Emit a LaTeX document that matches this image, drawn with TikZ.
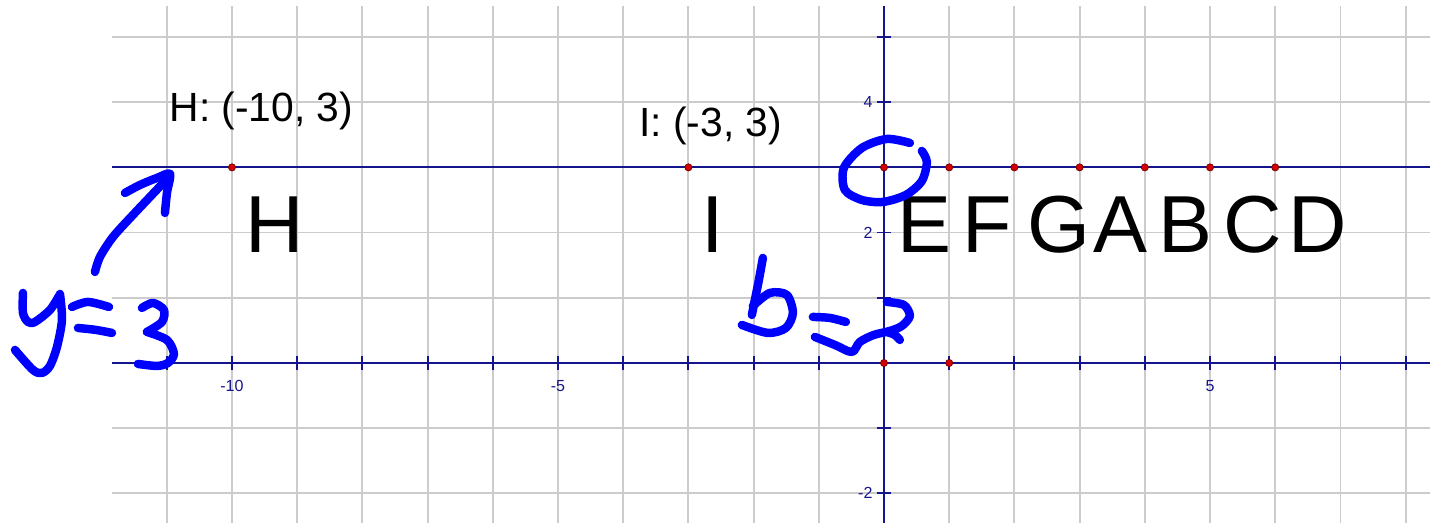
\documentclass[tikz,border=0pt]{standalone}
\usepackage{fontspec}
\setmainfont{Liberation Sans}
\usetikzlibrary{positioning}
\definecolor{axisnavy}{RGB}{20,20,140}
\definecolor{gridgray}{RGB}{204,204,204}
\definecolor{ptred}{RGB}{210,0,0}
\definecolor{penblue}{RGB}{0,0,255}

\begin{document}
\begin{tikzpicture}[
    gridln/.style={draw=gridgray, line width=0.8pt},
    axisln/.style={draw=axisnavy, line width=0.8pt},
    redpt/.style={circle, fill=ptred, draw=ptred!55!black, line width=0.3pt,
                  inner sep=0pt, minimum size=0.11cm},
    ptlbl/.style={font=\fontsize{35.3}{40}\selectfont, anchor=base west, inner sep=0pt},
    coordlbl/.style={font=\fontsize{17.8}{20}\selectfont, anchor=base west, inner sep=0pt},
    numlbl/.style={font=\fontsize{7}{8}\selectfont, text=axisnavy, inner sep=0pt},
    pen/.style={draw=penblue, line width=3.7pt, line cap=round, line join=round}
]
\useasboundingbox (-13.558,-2.454) rectangle (8.374,5.567);

% grid and axes
\draw[gridln] (-11.84,-2.454) grid (8.374,5.475);
\draw[axisln] (-11.84,0) -- (8.374,0);
\draw[axisln] (0,-2.454) -- (0,5.475);
\foreach \x in {-11,...,-1,1,2,...,8}
    \draw[axisln] (\x,-0.1) -- (\x,0.1);
\foreach \y in {-2,-1,1,2,4,5}
    \draw[axisln] (-0.1,\y) -- (0.1,\y);
\node[numlbl] (xm10) at (-10,-0.35) {-10};
\node[numlbl] (xm5)  at (-5,-0.35)  {-5};
\node[numlbl] (xp5)  at (5,-0.35)   {5};
\node[numlbl, anchor=east] (yp4) at (-0.17,4)  {4};
\node[numlbl, anchor=east] (yp2) at (-0.17,2)  {2};
\node[numlbl, anchor=east] (ym2) at (-0.17,-2) {-2};

% the line y = 3 and its points
\draw[axisln] (-11.84,3) -- (8.374,3);
\foreach \x/\n in {-10/H, -3/I, 0/E, 1/F, 2/G, 3/A, 4/B, 5/C, 6/D} {
    \node[redpt] (p\n) at (\x,3) {};
    \node[ptlbl] (lbl\n) at ({\x+0.2},1.687) {\n};
}
\node[redpt] (o0) at (0,0) {};
\node[redpt] (o1) at (1,0) {};

\node[coordlbl] (coordH) at (-10.963,3.696) {H: (-10, 3)};
\node[coordlbl] (coordI) at (-3.760,3.471)  {I: (-3, 3)};

% handwriting, in screen pixels
\begin{scope}[shift={(-13.5583cm,5.5675cm)}, x=0.015337cm, y=-0.015337cm]
    % arrow to the line
    \draw[pen] plot[smooth] coordinates {(95,272) (100,257) (113,237) (133,215) (150,197) (165,181) (170,174)};
    \draw[pen] plot[smooth] coordinates {(125,193) (140,185) (157,178) (170,174) (167,193) (165,213)};
    % y = 3
    \draw[pen] plot[smooth] coordinates {(23,293) (23,313) (28,322) (35,322) (50,310) (59,296)};
    \draw[pen] plot[smooth] coordinates {(60,294) (62,320) (57,347) (50,366) (42,373) (33,370) (15,350)};
    \draw[pen] plot[smooth] coordinates {(72,307) (88,302) (109,307)};
    \draw[pen] plot[smooth] coordinates {(78,328) (96,330) (112,333)};
    \draw[pen] plot[smooth] coordinates {(142,308) (153,303) (164,310) (162,322) (147,332)};
    \draw[pen] plot[smooth] coordinates {(147,332) (167,340) (174,354) (168,363) (157,366) (138,364)};
    % circle round (0,3)
    \draw[pen] plot[smooth] coordinates {(910,143) (887,139) (862,148) (844,168) (845,190) (862,200) (883,202) (906,195) (922,181) (927,162) (922,151)};
    % b = 2
    \draw[pen] plot[smooth] coordinates {(763,258) (759,280) (755,300) (752,315)};
    \draw[pen] plot[smooth] coordinates {(753,306) (770,293) (787,295) (793,313) (786,328) (768,333) (742,325)};
    \draw[pen] plot[smooth] coordinates {(813,317) (830,318) (846,322)};
    \draw[pen] plot[smooth] coordinates {(815,337) (835,345) (852,352) (860,342) (874,335) (890,331) (902,326) (910,316) (904,305) (887,302)};
    \draw[pen] plot[smooth] coordinates {(887,332) (895,335) (900,340)};
\end{scope}
\end{tikzpicture}
\end{document}
